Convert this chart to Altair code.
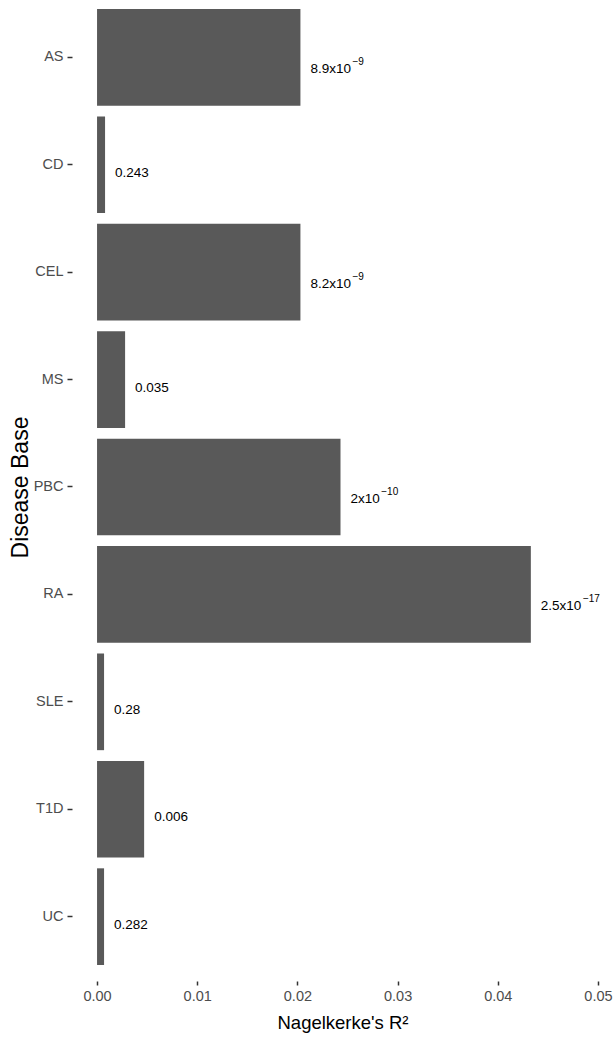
import altair as alt
import pandas as pd

# Nagelkerke's R² per disease base, with the association p-value shown beside each bar
diseases = ["AS", "CD", "CEL", "MS", "PBC", "RA", "SLE", "T1D", "UC"]
r2 = [0.0203, 0.0008, 0.0203, 0.0028, 0.0243, 0.0433, 0.0007, 0.0047, 0.0007]
p_values = ["8.9x10^−9", "0.243", "8.2x10^−9", "0.035", "2x10^−10",
            "2.5x10^−17", "0.28", "0.006", "0.282"]
x_ticks = [0.0, 0.01, 0.02, 0.03, 0.04, 0.05]

FONT = "Liberation Sans"
LABEL_SIZE = 13.5
EXP_SIZE = 10

# split "mantissa x10^exponent" into the base text and its superscript
base_txt = [p.split("^")[0] for p in p_values]
exp_txt = [p.split("^")[1] if "^" in p else "" for p in p_values]

# advance widths (em) of the sans face, used to place each superscript
# directly after its base text
ADV = {".": 0.278, "x": 0.5}
def text_width(s, size):
    return sum(ADV.get(ch, 0.556) for ch in s) * size

X_DOMAIN = [-0.0025, 0.0515]
PLOT_W = 541
px_per_unit = PLOT_W / (X_DOMAIN[1] - X_DOMAIN[0])
LABEL_DX = 10

df = pd.DataFrame({
    "disease": diseases,
    "r2": r2,
    "base": base_txt,
    "exp": exp_txt,
    "is_sci": [e != "" for e in exp_txt],
    "exp_shift": [(LABEL_DX + text_width(b, LABEL_SIZE) + 1.5) / px_per_unit for b in base_txt],
})

y_enc = alt.Y(
    "disease:N",
    sort=diseases,
    title="Disease Base",
    scale=alt.Scale(paddingInner=0.1, paddingOuter=0.1164, align=0.36),
    axis=alt.Axis(
        domain=False, ticks=True, tickSize=5, tickColor="#333333", tickWidth=1.5,
        labelPadding=4, labelFontSize=14.5, labelColor="#4D4D4D", labelFont=FONT,
        titleFont=FONT, titleFontSize=23, titleFontWeight="normal",
        titleColor="#000000", titlePadding=1, titleY=487,
    ),
)

x_enc = alt.X(
    "r2:Q",
    title="Nagelkerke's R²",
    scale=alt.Scale(domain=X_DOMAIN, nice=False, zero=False),
    axis=alt.Axis(
        values=x_ticks, format=".2f", domain=False, grid=False,
        ticks=True, tickSize=4, tickColor="#333333", tickWidth=1.5,
        labelPadding=4, labelFontSize=14.5, labelColor="#4D4D4D", labelFont=FONT,
        titleFont=FONT, titleFontSize=18.5, titleFontWeight="normal",
        titleColor="#000000", titlePadding=11,
    ),
)

y_plain = alt.Y("disease:N", sort=diseases)

bars = alt.Chart(df).mark_bar(color="#595959").encode(
    x=x_enc,
    x2=alt.datum(0),
    y=y_enc,
)

plain_labels = alt.Chart(df).transform_filter("!datum.is_sci").mark_text(
    align="left", baseline="middle", dx=LABEL_DX, dy=8,
    font=FONT, fontSize=LABEL_SIZE, color="#000000",
).encode(x="r2:Q", y=y_plain, text="base:N")

sci_labels = alt.Chart(df).transform_filter("datum.is_sci").mark_text(
    align="left", baseline="middle", dx=LABEL_DX, dy=12,
    font=FONT, fontSize=LABEL_SIZE, color="#000000",
).encode(x="r2:Q", y=y_plain, text="base:N")

exponents = alt.Chart(df).transform_filter("datum.is_sci").transform_calculate(
    exp_x="datum.r2 + datum.exp_shift"
).mark_text(
    align="left", baseline="middle", dy=5,
    font=FONT, fontSize=EXP_SIZE, color="#000000",
).encode(x="exp_x:Q", y=y_plain, text="exp:N")

chart = (
    alt.layer(bars, plain_labels, sci_labels, exponents)
    .properties(
        width=PLOT_W,
        height=981,
        padding={"left": 72, "right": 3, "top": 0, "bottom": 65},
        autosize=alt.AutoSizeParams(type="none"),
        background="#FFFFFF",
    )
    .configure_view(stroke=None)
    .configure_axis(grid=False)
)

chart.save("out.html", embed_options={"renderer": "svg", "actions": False})
